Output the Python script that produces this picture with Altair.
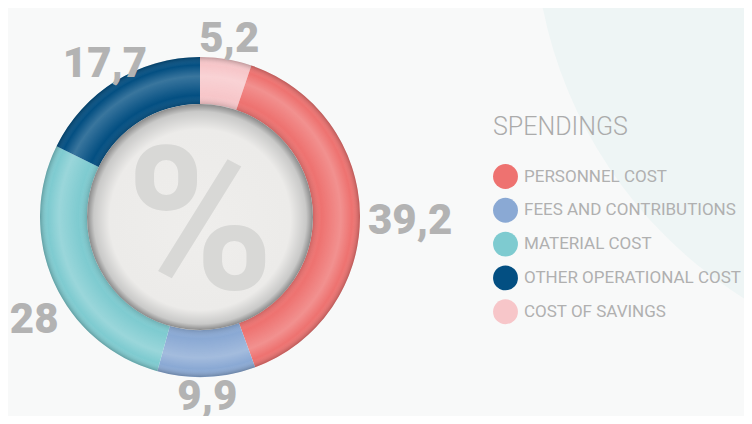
import altair as alt
import pandas as pd

# ---- data ----
categories = ["COST OF SAVINGS", "PERSONNEL COST", "FEES AND CONTRIBUTIONS",
              "MATERIAL COST", "OTHER OPERATIONAL COST"]          # clockwise from 12 o'clock
values = [5.2, 39.2, 9.9, 28.0, 17.7]
value_labels = ["5,2", "39,2", "9,9", "28", "17,7"]
legend_order = ["PERSONNEL COST", "FEES AND CONTRIBUTIONS", "MATERIAL COST",
                "OTHER OPERATIONAL COST", "COST OF SAVINGS"]
legend_colors = ["#ee7270", "#8aa9d4", "#7ecbd0", "#034f82", "#f7c6c9"]
legend_title = "SPENDINGS"
center_symbol = "%"

df = pd.DataFrame({
    "cat": categories,
    "val": values,
    "lab": value_labels,
    "ord": list(range(len(categories))),
})
one = pd.DataFrame({"k": [0]})

CX, CY = 192, 209
R_OUT, R_IN = 160, 113
FULL = 6.283185307

color = alt.Color("cat:N", scale=alt.Scale(domain=legend_order, range=legend_colors),
                  legend=alt.Legend(title=legend_title, orient="none", legendX=485, legendY=107,
                                    padding=0, symbolType="circle", symbolSize=620,
                                    symbolStrokeWidth=0, titleFontSize=25, titleFont="Roboto",
                                    titleFontWeight=300, titleColor="#ababab", titlePadding=24,
                                    labelFont="Roboto", labelFontSize=17, labelFontWeight=400,
                                    labelColor="#b0b0b0", labelOffset=6, rowPadding=8.8,
                                    labelLimit=400))

decor = alt.Chart(one).mark_arc(theta=0, theta2=FULL, outerRadius=446, fill="#eef5f5").encode(
    x=alt.value(972), y=alt.value(-88))

ring = alt.Chart(df).mark_arc(outerRadius=R_OUT, innerRadius=R_IN).encode(
    theta=alt.Theta("val:Q", stack=True),
    order=alt.Order("ord:Q"),
    color=color,
    x=alt.value(CX), y=alt.value(CY),
)

shade = alt.Chart(one).mark_arc(
    theta=0, theta2=FULL, outerRadius=R_OUT, innerRadius=R_IN,
    fill=alt.Gradient(gradient="radial", x1=0.5, y1=0.5, r1=0, x2=0.5, y2=0.5, r2=0.5,
                      stops=[alt.GradientStop(offset=0.70, color="rgba(0,0,0,0.18)"),
                             alt.GradientStop(offset=0.76, color="rgba(255,255,255,0)"),
                             alt.GradientStop(offset=0.88, color="rgba(255,255,255,0.22)"),
                             alt.GradientStop(offset=0.95, color="rgba(255,255,255,0)"),
                             alt.GradientStop(offset=1.0, color="rgba(0,0,0,0.22)")])
).encode(x=alt.value(CX), y=alt.value(CY))

disc = alt.Chart(one).mark_arc(
    theta=0, theta2=FULL, outerRadius=R_IN, innerRadius=0,
    fill=alt.Gradient(gradient="radial", x1=0.5, y1=0.56, r1=0, x2=0.5, y2=0.5, r2=0.5,
                      stops=[alt.GradientStop(offset=0, color="#efeeec"),
                             alt.GradientStop(offset=0.80, color="#ecebe9"),
                             alt.GradientStop(offset=0.94, color="#c9c9c8"),
                             alt.GradientStop(offset=1.0, color="#8a8a8a")])
).encode(x=alt.value(CX), y=alt.value(CY))

pct = alt.Chart(one).mark_text(text=center_symbol, font="Roboto", fontWeight="bold",
                               fontSize=200, color="#d8d8d6", baseline="middle",
                               align="center").encode(x=alt.value(CX), y=alt.value(CY + 12))

base = alt.Chart(df).transform_joinaggregate(total="sum(val)").transform_window(
    cum="sum(val)", sort=[alt.SortField("ord")], frame=[None, 0]
).transform_calculate(
    a="(datum.cum - datum.val / 2) / datum.total * 2 * PI",
).transform_calculate(
    s="sin(datum.a)",
    r="datum.s > 0.7 ? 168 : (datum.s < -0.7 ? 155 : 180)",
).transform_calculate(
    lx=f"{CX} + datum.r * sin(datum.a)",
    ly=f"{CY} - datum.r * cos(datum.a)",
)

enc = dict(x=alt.X("lx:Q", scale=None, axis=None),
           y=alt.Y("ly:Q", scale=None, axis=None),
           text="lab:N")
txt = dict(font="Roboto", fontWeight=900, fontSize=42, color="#b3b3b3", baseline="middle")

lab_right = base.transform_filter("datum.s > 0.7").mark_text(align="left", dy=6, **txt).encode(**enc)
lab_left = base.transform_filter("datum.s < -0.7").mark_text(align="right", dy=40, **txt).encode(**enc)
lab_mid = base.transform_filter("abs(datum.s) <= 0.7").mark_text(align="center", **txt).encode(**enc)

chart = alt.layer(decor, ring, shade, disc, pct, lab_right, lab_left, lab_mid).properties(
    width=736, height=408, padding=0, background="#f8f9f9",
    autosize=alt.AutoSizeParams(type="none"),
).configure_view(stroke=None)

chart.save("out.html", embed_options={"renderer": "svg", "actions": False})
